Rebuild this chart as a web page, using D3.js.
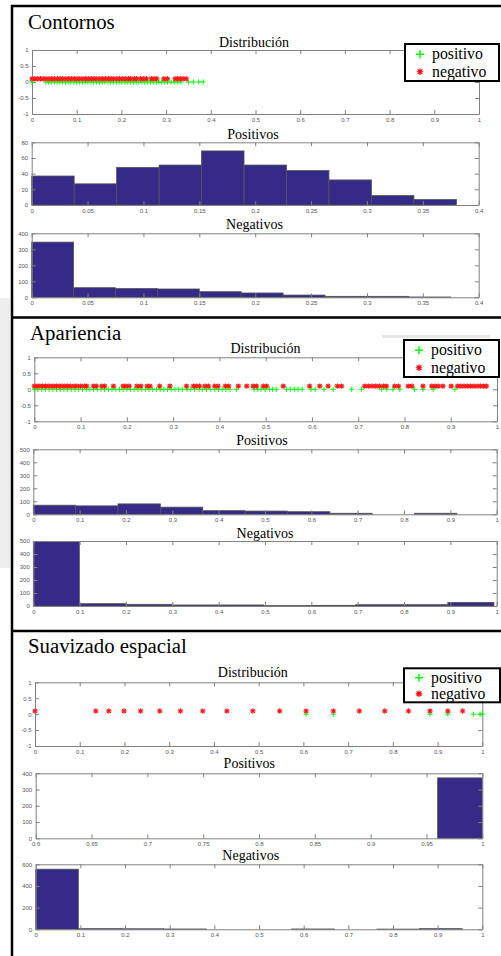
<!DOCTYPE html>
<meta charset="UTF-8">
<style>
    body { margin: 0; background: #fff; }
    svg { display: block; }
    .axis path, .axis line { stroke: #808080; fill: none; }
    .axis text { font-family: "Liberation Sans", Arial, sans-serif; font-size: 6px; fill: #555; }
    .ptitle { font-family: "Liberation Serif", "Times New Roman", serif; font-size: 20.8px; fill: #000; }
    .stitle { font-family: "Liberation Serif", "Times New Roman", serif; font-size: 14px; text-anchor: middle; fill: #000; }
    .legend text { font-family: "Liberation Serif", "Times New Roman", serif; font-size: 15.8px; fill: #000; }
</style>
<body>
<div id="chart"></div>
<script src="https://d3js.org/d3.v7.min.js"></script>
<script>

// ---------- data ----------
var panelNames = ["Contornos", "Apariencia", "Suavizado espacial"];
var subTitles = ["Distribución", "Positivos", "Negativos"];
var legendLabels = ["positivo", "negativo"];

// levels the two scatter series are drawn at
var posLevel = 0;
var negLevel = 0.1;

// Contornos: scatter values
var contornosPos = [0, 0.031, 0.037, 0.043, 0.05, 0.056, 0.062, 0.068, 0.075, 0.081, 0.087, 0.094, 0.1, 0.106,
    0.113, 0.119, 0.125, 0.132, 0.138, 0.144, 0.151, 0.157, 0.163, 0.17, 0.176, 0.182, 0.189, 0.195, 0.201,
    0.208, 0.214, 0.22, 0.227, 0.233, 0.239, 0.246, 0.252, 0.258, 0.265, 0.271, 0.278, 0.284, 0.29, 0.297,
    0.303, 0.311, 0.318, 0.326, 0.333, 0.35, 0.361, 0.373, 0.383];
var contornosNeg = [0, 0.006, 0.012, 0.019, 0.025, 0.031, 0.038, 0.044, 0.05, 0.057, 0.063, 0.069, 0.076,
    0.082, 0.088, 0.095, 0.101, 0.107, 0.114, 0.12, 0.126, 0.133, 0.139, 0.145, 0.152, 0.158, 0.164, 0.171,
    0.177, 0.183, 0.19, 0.196, 0.203, 0.209, 0.216, 0.221, 0.229, 0.234, 0.243, 0.249, 0.256, 0.267, 0.273,
    0.279, 0.295, 0.303, 0.32, 0.326, 0.332, 0.338, 0.345];
// Contornos: histograms
var contornosPosCounts = [37, 27, 48, 51, 69, 51, 44, 32, 12, 7];
var contornosPosBins = [0, 0.38];
var contornosNegCounts = [345, 60, 55, 52, 35, 27, 14, 6, 6, 2];
var contornosNegBins = [0, 0.375];

// Apariencia: scatter values
var aparienciaPos = [0, 0.008, 0.016, 0.024, 0.032, 0.04, 0.048, 0.056, 0.064, 0.072, 0.08, 0.088, 0.096,
    0.104, 0.112, 0.12, 0.128, 0.136, 0.144, 0.152, 0.16, 0.168, 0.176, 0.184, 0.192, 0.2, 0.208, 0.216,
    0.224, 0.232, 0.24, 0.248, 0.256, 0.264, 0.272, 0.28, 0.288, 0.296, 0.304, 0.312, 0.32, 0.33, 0.338,
    0.346, 0.356, 0.363, 0.372, 0.381, 0.39, 0.398, 0.406, 0.414, 0.423, 0.437, 0.475, 0.483, 0.49, 0.499,
    0.508, 0.515, 0.523, 0.545, 0.553, 0.562, 0.57, 0.579, 0.598, 0.607, 0.626, 0.646, 0.686, 0.707, 0.75,
    0.762, 0.775, 0.79, 0.822, 0.84, 0.862, 0.909];
var aparienciaNeg = [0, 0.006, 0.012, 0.018, 0.024, 0.03, 0.036, 0.042, 0.048, 0.054, 0.06, 0.066, 0.072,
    0.078, 0.086, 0.092, 0.1, 0.108, 0.113, 0.128, 0.134, 0.146, 0.152, 0.171, 0.192, 0.198, 0.205, 0.222,
    0.23, 0.244, 0.25, 0.271, 0.293, 0.329, 0.344, 0.35, 0.357, 0.369, 0.376, 0.39, 0.397, 0.413, 0.42,
    0.441, 0.459, 0.473, 0.48, 0.495, 0.502, 0.538, 0.595, 0.617, 0.635, 0.655, 0.664, 0.714, 0.722, 0.73,
    0.738, 0.746, 0.755, 0.761, 0.779, 0.787, 0.808, 0.816, 0.84, 0.859, 0.866, 0.873, 0.883, 0.901, 0.915,
    0.922, 0.929, 0.936, 0.943, 0.95, 0.957, 0.964, 0.971, 0.977];
// Apariencia: histograms
var aparienciaPosCounts = [70, 65, 80, 55, 28, 25, 20, 8, 0, 8];
var aparienciaPosBins = [0, 0.914];
var aparienciaNegCounts = [495, 18, 13, 8, 8, 3, 5, 10, 10, 28];
var aparienciaNegBins = [0, 0.994];

// Suavizado espacial: scatter values
var suavizadoPos = [0.606, 0.667, 0.883, 0.923, 0.98, 0.995, 1];
var suavizadoNeg = [0, 0.136, 0.165, 0.199, 0.236, 0.279, 0.325, 0.375, 0.429, 0.487, 0.547, 0.606, 0.667,
    0.725, 0.782, 0.835, 0.883, 0.923, 0.956];
// Suavizado espacial: histograms
var suavizadoPosCounts = [372];
var suavizadoPosBins = [0.96, 1];
var suavizadoNegCounts = [555, 6, 5, 3, 0, 0, 3, 0, 2, 6];
var suavizadoNegBins = [0, 0.955];

// tick values
var distXTicks = [0, 0.1, 0.2, 0.3, 0.4, 0.5, 0.6, 0.7, 0.8, 0.9, 1];
var distYTicks = [-1, -0.5, 0, 0.5, 1];
var narrowXTicks = [0, 0.05, 0.1, 0.15, 0.2, 0.25, 0.3, 0.35, 0.4];
var highXTicks = [0.6, 0.65, 0.7, 0.75, 0.8, 0.85, 0.9, 0.95, 1];
var ticks80 = [0, 20, 40, 60, 80];
var ticks400 = [0, 100, 200, 300, 400];
var ticks500 = [0, 100, 200, 300, 400, 500];
var ticks600 = [0, 200, 400, 600];

// ---------- layout ----------
var width = 501, height = 956;
var barColor = "#352a87";

var panels = [
    {
        name: panelNames[0], title: {x: 28, y: 29},
        legend: {l: 405, r: 499, t: 44, b: 81},
        dist: {l: 32, r: 479, t: 50, b: 114, tx: 254, ty: 46.5, pos: contornosPos, neg: contornosNeg},
        pos: {l: 31.7, r: 478.7, t: 142.3, b: 205, tx: 253, ty: 138.5, xd: [0, 0.4], yd: [0, 80],
              xt: narrowXTicks, yt: ticks80, counts: contornosPosCounts, bins: contornosPosBins},
        neg: {l: 31.7, r: 478.7, t: 233.3, b: 297.3, tx: 254.5, ty: 229, xd: [0, 0.4], yd: [0, 400],
              xt: narrowXTicks, yt: ticks400, counts: contornosNegCounts, bins: contornosNegBins}
    },
    {
        name: panelNames[1], title: {x: 30, y: 340},
        legend: {l: 404, r: 499, t: 340, b: 377},
        dist: {l: 34.3, r: 497, t: 357.3, b: 421.3, tx: 265.5, ty: 352.5, pos: aparienciaPos, neg: aparienciaNeg},
        pos: {l: 33.3, r: 496.7, t: 449.3, b: 514.3, tx: 262, ty: 444.5, xd: [0, 1], yd: [0, 500],
              xt: distXTicks, yt: ticks500, counts: aparienciaPosCounts, bins: aparienciaPosBins},
        neg: {l: 33.3, r: 496.7, t: 541, b: 606, tx: 265, ty: 537.5, xd: [0, 1], yd: [0, 500],
              xt: distXTicks, yt: ticks500, counts: aparienciaNegCounts, bins: aparienciaNegBins}
    },
    {
        name: panelNames[2], title: {x: 28, y: 653},
        legend: {l: 404, r: 500, t: 668.3, b: 702.3},
        dist: {l: 35, r: 482.3, t: 682.3, b: 746, tx: 252.8, ty: 677, pos: suavizadoPos, neg: suavizadoNeg},
        pos: {l: 35.7, r: 482.3, t: 773.3, b: 838.3, tx: 249.3, ty: 767.5, xd: [0.6, 1], yd: [0, 400],
              xt: highXTicks, yt: ticks400, counts: suavizadoPosCounts, bins: suavizadoPosBins},
        neg: {l: 35.7, r: 482.3, t: 864.3, b: 929.3, tx: 250.7, ty: 859.8, xd: [0, 1], yd: [0, 600],
              xt: distXTicks, yt: ticks600, counts: suavizadoNegCounts, bins: suavizadoNegBins}
    }
];

var svg = d3.select("#chart").append("svg")
    .attr("width", width)
    .attr("height", height);

svg.append("rect").attr("width", width).attr("height", height).attr("fill", "#fff");

// screenshot leftovers: grey strip on the left, grey bar over panel 2
svg.append("rect").attr("x", 0).attr("y", 298).attr("width", 10).attr("height", 270).attr("fill", "#eeeeee");
svg.append("rect").attr("x", 382).attr("y", 335).attr("width", 108).attr("height", 3).attr("fill", "#e6e6e6");

var fmt = function(d) { return String(+d.toFixed(2)); };

// box with inward ticks on all four sides
function frame(g, x, y, xt, yt, box) {
    g.append("g").attr("class", "axis")
        .attr("transform", "translate(0," + box.b + ")")
        .call(d3.axisBottom(x).tickValues(xt).tickSize(-4).tickSizeOuter(0).tickPadding(3.6).tickFormat(fmt));
    g.append("g").attr("class", "axis")
        .attr("transform", "translate(0," + box.t + ")")
        .call(d3.axisTop(x).tickValues(xt).tickSize(-4).tickSizeOuter(0).tickFormat(""));
    g.append("g").attr("class", "axis")
        .attr("transform", "translate(" + box.l + ",0)")
        .call(d3.axisLeft(y).tickValues(yt).tickSize(-4).tickSizeOuter(0).tickPadding(3.5).tickFormat(fmt));
    g.append("g").attr("class", "axis")
        .attr("transform", "translate(" + box.r + ",0)")
        .call(d3.axisRight(y).tickValues(yt).tickSize(-4).tickSizeOuter(0).tickFormat(""));
}

function plusPath(s) {
    return "M" + (-s) + ",0H" + s + "M0," + (-s) + "V" + s;
}
function starPath(s) {
    var d = s * 0.72;
    return plusPath(s) + "M" + (-d) + "," + (-d) + "L" + d + "," + d + "M" + (-d) + "," + d + "L" + d + "," + (-d);
}

function subTitle(g, box, text) {
    g.append("text").attr("class", "stitle")
        .attr("x", box.tx).attr("y", box.ty)
        .text(text);
}

function drawDist(g, box) {
    var x = d3.scaleLinear().domain([0, 1]).range([box.l, box.r]);
    var y = d3.scaleLinear().domain([-1, 1]).range([box.b, box.t]);

    frame(g, x, y, distXTicks, distYTicks, box);

    g.append("g").selectAll("path")
        .data(box.pos)
        .join("path")
        .attr("d", plusPath(2.6))
        .attr("transform", function(d) { return "translate(" + x(d) + "," + y(posLevel) + ")"; })
        .attr("stroke", "#00ff00").attr("stroke-width", 1).attr("fill", "none");

    g.append("g").selectAll("path")
        .data(box.neg)
        .join("path")
        .attr("d", starPath(2.7))
        .attr("transform", function(d) { return "translate(" + x(d) + "," + y(negLevel) + ")"; })
        .attr("stroke", "#ff1a1a").attr("stroke-width", 1.1).attr("fill", "none");

    subTitle(g, box, subTitles[0]);
}

function drawHist(g, box, title) {
    var x = d3.scaleLinear().domain(box.xd).range([box.l, box.r]);
    var y = d3.scaleLinear().domain(box.yd).range([box.b, box.t]);
    var n = box.counts.length;
    var w = (box.bins[1] - box.bins[0]) / n;

    g.append("g").selectAll("rect")
        .data(box.counts)
        .join("rect")
        .attr("x", function(d, i) { return x(box.bins[0] + i * w); })
        .attr("width", function(d, i) { return x(box.bins[0] + (i + 1) * w) - x(box.bins[0] + i * w); })
        .attr("y", function(d) { return y(d); })
        .attr("height", function(d) { return y(0) - y(d); })
        .attr("fill", barColor)
        .attr("stroke", "#555")
        .attr("stroke-width", 0.8);

    frame(g, x, y, box.xt, box.yt, box);
    subTitle(g, box, title);
}

function drawLegend(g, box) {
    var lg = g.append("g").attr("class", "legend");
    var h = box.b - box.t;
    lg.append("rect")
        .attr("x", box.l).attr("y", box.t)
        .attr("width", box.r - box.l).attr("height", h)
        .attr("fill", "#fff").attr("stroke", "#000").attr("stroke-width", 2);
    var rows = [box.t + h * 0.28, box.t + h * 0.75];
    lg.append("path")
        .attr("d", plusPath(4))
        .attr("transform", "translate(" + (box.l + 15) + "," + rows[0] + ")")
        .attr("stroke", "#00ff00").attr("stroke-width", 1.5).attr("fill", "none");
    lg.append("path")
        .attr("d", starPath(3.3))
        .attr("transform", "translate(" + (box.l + 15) + "," + rows[1] + ")")
        .attr("stroke", "#ff0000").attr("stroke-width", 1.2).attr("fill", "none");
    legendLabels.forEach(function(t, i) {
        lg.append("text").attr("x", box.l + 27).attr("y", rows[i] + 5).text(t);
    });
}

panels.forEach(function(p) {
    var g = svg.append("g");
    g.append("text").attr("class", "ptitle")
        .attr("x", p.title.x).attr("y", p.title.y)
        .text(p.name);
    drawDist(g, p.dist);
    drawHist(g, p.pos, subTitles[1]);
    drawHist(g, p.neg, subTitles[2]);
    drawLegend(g, p.legend);
});

// black panel frames
var frameLines = [
    [12, 5, 12, 956],
    [11, 6, 501, 6],
    [11, 317.5, 501, 317.5],
    [11, 631, 501, 631]
];
svg.append("g").selectAll("line")
    .data(frameLines)
    .join("line")
    .attr("x1", function(d) { return d[0]; })
    .attr("y1", function(d) { return d[1]; })
    .attr("x2", function(d) { return d[2]; })
    .attr("y2", function(d) { return d[3]; })
    .attr("stroke", "#000")
    .attr("stroke-width", 2.5);

</script>
</body>
